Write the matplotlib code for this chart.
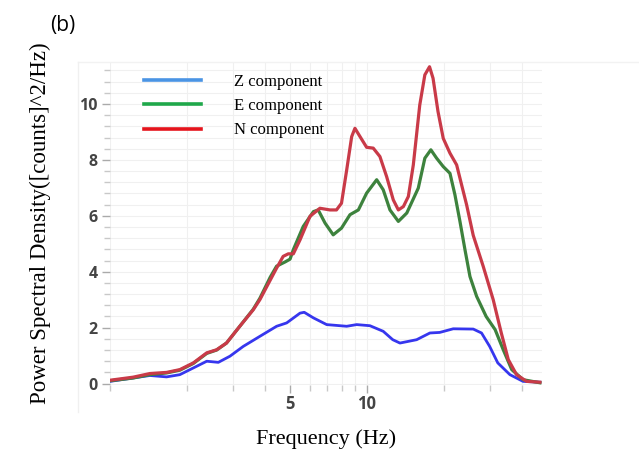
import matplotlib
matplotlib.use("Agg")
import matplotlib.pyplot as plt
from matplotlib.lines import Line2D
from matplotlib.ticker import FixedLocator, NullFormatter

# N component (red)
freq_n = [1.0, 1.23, 1.43, 1.66, 1.87, 2.11, 2.38, 2.6, 2.84, 3.2, 3.61, 3.83, 4.45, 4.72,
          4.94, 5.17, 5.49, 6.0, 6.56, 7.18, 7.61, 7.96, 8.34, 8.72, 8.98, 9.4, 9.97,
          10.58, 11.23, 11.93, 12.66, 13.25, 13.86, 14.49, 15.15, 16.05, 16.8, 17.52,
          18.08, 18.9, 19.81, 21.04, 22.34, 23.35, 24.43, 25.92, 28.35, 31.0, 33.33,
          35.48, 38.2, 41.8, 47.1]
psd_n = [0.12, 0.23, 0.36, 0.4, 0.5, 0.74, 1.1, 1.21, 1.45, 2.05, 2.64, 3.0, 4.13, 4.55,
         4.64, 4.64, 5.14, 5.98, 6.27, 6.21, 6.21, 6.45, 7.64, 8.83, 9.13, 8.83, 8.45,
         8.42, 8.12, 7.4, 6.57, 6.21, 6.33, 6.69, 7.82, 9.96, 11.04, 11.33,
         10.92, 9.73, 8.77, 8.24, 7.82, 7.11, 6.39, 5.3, 4.19, 3.0, 1.81,
         0.86, 0.32, 0.08, 0.05]

# E component (green)
freq_e = [1.0, 1.23, 1.43, 1.66, 1.87, 2.11, 2.38, 2.6, 2.84, 3.2, 3.61, 3.83, 4.2, 4.45,
          4.8, 5.02, 5.17, 5.65, 6.19, 6.46, 6.87, 7.39, 7.96, 8.59, 9.26, 9.97, 10.91,
          11.57, 12.29, 13.25, 14.29, 15.84, 16.8, 17.73, 18.67, 19.81, 21.04, 22.0,
          23.01, 24.1, 25.17, 26.72, 29.1, 31.54, 33.92, 36.6, 40.5, 47.1]
psd_e = [0.1, 0.2, 0.32, 0.38, 0.48, 0.72, 1.08, 1.2, 1.45, 2.05, 2.66, 3.05, 3.8, 4.2,
         4.35, 4.45, 4.79, 5.62, 6.15, 6.21, 5.74, 5.32, 5.56, 6.04, 6.21, 6.81, 7.29,
         6.93, 6.21, 5.8, 6.1, 6.99, 8.06, 8.36, 8.06, 7.76, 7.52, 6.75,
         5.8, 4.76, 3.83, 3.12, 2.4, 1.93, 1.21, 0.5, 0.14, 0.03]

# Z component (blue)
freq_z = [1.0, 1.43, 1.66, 1.87, 2.11, 2.38, 2.64, 2.93, 3.3, 3.83, 4.45, 4.87, 5.49,
          5.7, 6.19, 6.97, 8.34, 9.12, 10.27, 11.57, 12.6, 13.44, 15.61, 17.58, 19.2,
          21.67, 25.92, 27.92, 30.03, 32.3, 36.0, 40.5, 47.1]
psd_z = [0.08, 0.29, 0.24, 0.32, 0.56, 0.8, 0.76, 0.98, 1.33, 1.69, 2.05, 2.17, 2.52,
         2.55, 2.35, 2.11, 2.05, 2.11, 2.07, 1.87, 1.57, 1.45, 1.57, 1.81, 1.83,
         1.96, 1.95, 1.81, 1.33, 0.74, 0.32, 0.08, 0.05]

labels = ["Z component", "E component", "N component"]
legend_colors = ["#4a94e4", "#1fa84a", "#e5141c"]

fig = plt.figure(figsize=(6.39, 4.55), dpi=100)
ax = fig.add_axes([110 / 639, 1 - 385 / 455, 432 / 639, 323 / 455])

ax.plot(freq_z, psd_z, color="#3636ee", lw=2.0)
ax.plot(freq_e, psd_e, color="#3d823d", lw=2.3)
ax.plot(freq_n, psd_n, color="#c93a48", lw=2.3)

ax.set_xscale("log")
ax.set_xlim(1.0, 48)
ax.set_ylim(-0.05, 11.5)

ax.xaxis.set_major_locator(FixedLocator([5, 10]))
ax.xaxis.set_minor_locator(FixedLocator([1, 2, 3, 4, 6, 7, 8, 9, 20, 30, 40]))
ax.xaxis.set_minor_formatter(NullFormatter())
ax.set_xticklabels(["5", "10"])
ax.yaxis.set_major_locator(FixedLocator([0, 2, 4, 6, 8, 10]))
ax.yaxis.set_minor_locator(FixedLocator([v * 0.4 for v in range(0, 29)]))

for side in ["top", "right", "bottom", "left"]:
    ax.spines[side].set_visible(False)

ax.grid(True, which="both", color="#f0f0f0", lw=0.8)
ax.set_axisbelow(True)
ax.tick_params(axis="both", which="major", length=6, color="#aaaaaa", width=1)
ax.tick_params(axis="both", which="minor", length=4, color="#c8c8c8", width=1)
ax.tick_params(axis="y", pad=3)
ax.tick_params(axis="x", pad=1)
for lab in ax.get_yticklabels():
    lab.set_fontsize(11.5)
for lab in ax.get_xticklabels():
    lab.set_fontsize(12)
for lab in ax.get_xticklabels() + ax.get_yticklabels():
    lab.set_fontfamily("Open Sans")
    lab.set_fontweight("bold")
    lab.set_color("#444444")

ax.set_xlabel("Frequency (Hz)", fontfamily="Liberation Serif", fontsize=16, labelpad=12)
ax.set_ylabel("Power Spectral Density([counts]^2/Hz)", fontfamily="Liberation Serif",
              fontsize=16.5, labelpad=20)

handles = [Line2D([], [], color=c, lw=2.6) for c in legend_colors]
ax.legend(handles, labels, loc="upper left", bbox_to_anchor=(0.045, 1.01), frameon=False,
          prop={"family": "Liberation Serif", "size": 12}, handlelength=3.4,
          handletextpad=2.0, labelspacing=0.5)

fig.text(50 / 639, 1 - 26 / 455, "(b)", fontfamily="Open Sans", fontsize=15, va="center")

# faint outer frame lines from the original figure
fig.add_artist(Line2D([78 / 639, 1.0], [1 - 62 / 455, 1 - 62 / 455], color="#f2f2f2", lw=1))
fig.add_artist(Line2D([78 / 639, 78 / 639], [1 - 62 / 455, 1 - 412 / 455], color="#f0f0f0", lw=1))

fig.savefig("out.png", dpi=100)
